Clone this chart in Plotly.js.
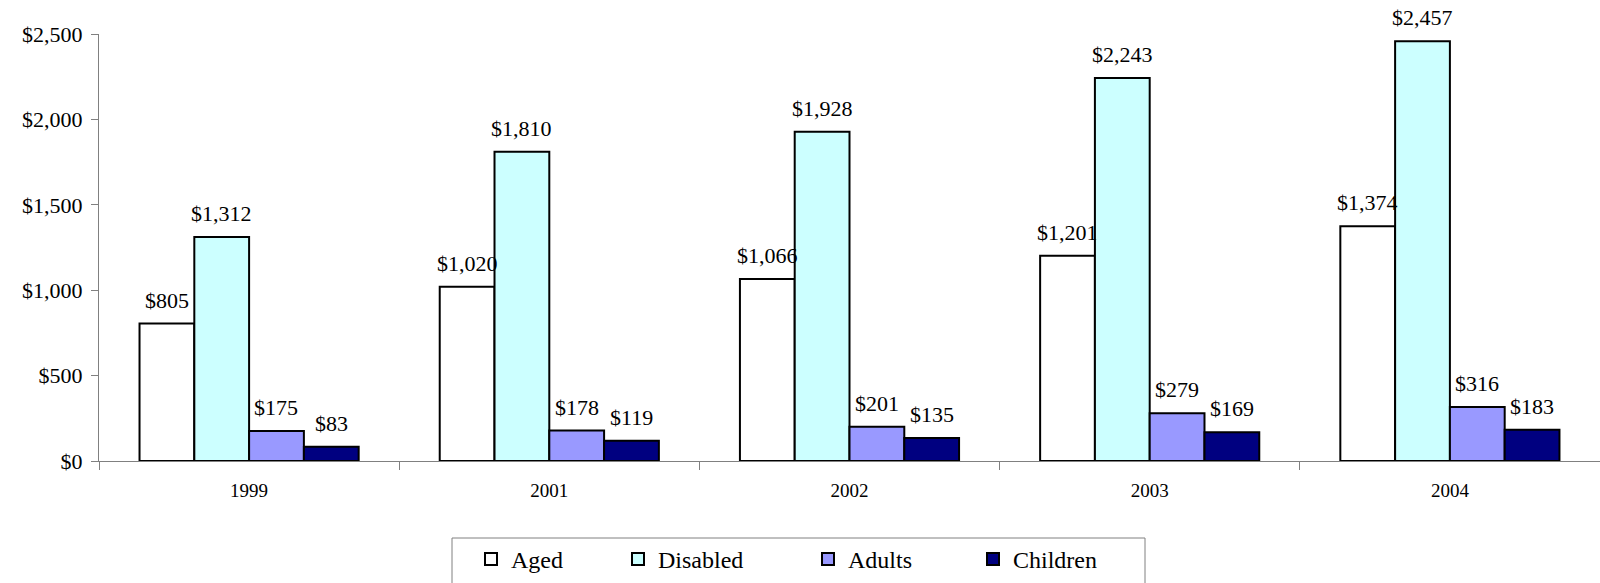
<!DOCTYPE html>
<html>
<head>
<meta charset="utf-8">
<script src="https://cdn.plot.ly/plotly-3.0.1.min.js"></script>
<style>html,body{margin:0;padding:0;background:#fff;}</style>
</head>
<body>
<div id="chart" style="width:1600px;height:583px;"></div>
<script>
var years = ['1999', '2001', '2002', '2003', '2004'];
var aged = [805, 1020, 1066, 1201, 1374];
var disabled = [1312, 1810, 1928, 2243, 2457];
var adults = [175, 178, 201, 279, 316];
var children = [83, 119, 135, 169, 183];

var seriesNames = ['Aged', 'Disabled', 'Adults', 'Children'];
var seriesValues = [aged, disabled, adults, children];
var seriesColors = ['#FFFFFF', '#CCFFFF', '#9999FF', '#000080'];
var legendWidths = [102, 145, 120, 140];

var FONT = 'Liberation Serif';
var margin = {l: 99, r: 0, t: 34, b: 122};
var plotW = 1600 - margin.l - margin.r;
var plotH = 583 - margin.t - margin.b;
var bargap = 0.27;

var traces = seriesNames.map(function (name, i) {
  return {
    type: 'bar',
    name: name,
    x: years,
    y: seriesValues[i],
    marker: {color: seriesColors[i], line: {color: '#000000', width: 2}},
    legendwidth: legendWidths[i],
    hoverinfo: 'x+y+name'
  };
});

// data labels above bars
var catW = plotW / years.length;
var barW = catW * (1 - bargap) / seriesNames.length;
var annotations = [];
seriesValues.forEach(function (vals, i) {
  var shift = (i - (seriesNames.length - 1) / 2) * barW;
  vals.forEach(function (v, j) {
    annotations.push({
      x: j, y: v, xref: 'x', yref: 'y',
      text: '$' + v.toLocaleString('en-US'),
      showarrow: false, xshift: shift, yshift: 9,
      yanchor: 'bottom', xanchor: 'center',
      font: {family: FONT, size: 22, color: '#000'}
    });
  });
});

function px2paperX(px) { return (px - margin.l) / plotW; }
function px2paperY(py) { return (583 - margin.b - py) / plotH; }

var layout = {
  width: 1600, height: 583,
  margin: margin,
  paper_bgcolor: '#fff', plot_bgcolor: '#fff',
  barmode: 'group', bargap: bargap, bargroupgap: 0,
  showlegend: true,
  font: {family: FONT, color: '#000'},
  xaxis: {
    type: 'category',
    categoryorder: 'array', categoryarray: years,
    range: [-0.5, years.length - 0.5], autorange: false,
    showline: true, linecolor: '#808080', linewidth: 1,
    ticks: 'outside', tickson: 'boundaries', ticklen: 8, tickcolor: '#808080',
    tickfont: {family: FONT, size: 19, color: '#000'},
    tickangle: 0,
    ticklabelstandoff: 12,
    showgrid: false, zeroline: false, automargin: false
  },
  yaxis: {
    range: [0, 2500], autorange: false, dtick: 500, tickprefix: '$', tickformat: ',',
    showline: true, linecolor: '#808080', linewidth: 1,
    ticks: 'outside', ticklen: 7, tickcolor: '#808080',
    tickfont: {family: FONT, size: 22, color: '#000'},
    ticklabelstandoff: 4,
    showgrid: false, zeroline: false, automargin: false
  },
  legend: {
    orientation: 'h',
    x: px2paperX(471), xanchor: 'left',
    y: px2paperY(537), yanchor: 'top',
    borderwidth: 0, bgcolor: 'rgba(0,0,0,0)',
    font: {family: FONT, size: 24, color: '#000'},
    traceorder: 'normal'
  },
  shapes: [{
    type: 'rect', xref: 'paper', yref: 'paper', layer: 'below',
    x0: px2paperX(452), x1: px2paperX(1145),
    y0: px2paperY(538), y1: px2paperY(600),
    line: {color: '#808080', width: 1}, fillcolor: '#fff'
  }],
  annotations: annotations
};

Plotly.newPlot('chart', traces, layout, {displayModeBar: false, staticPlot: true});
</script>
</body>
</html>
